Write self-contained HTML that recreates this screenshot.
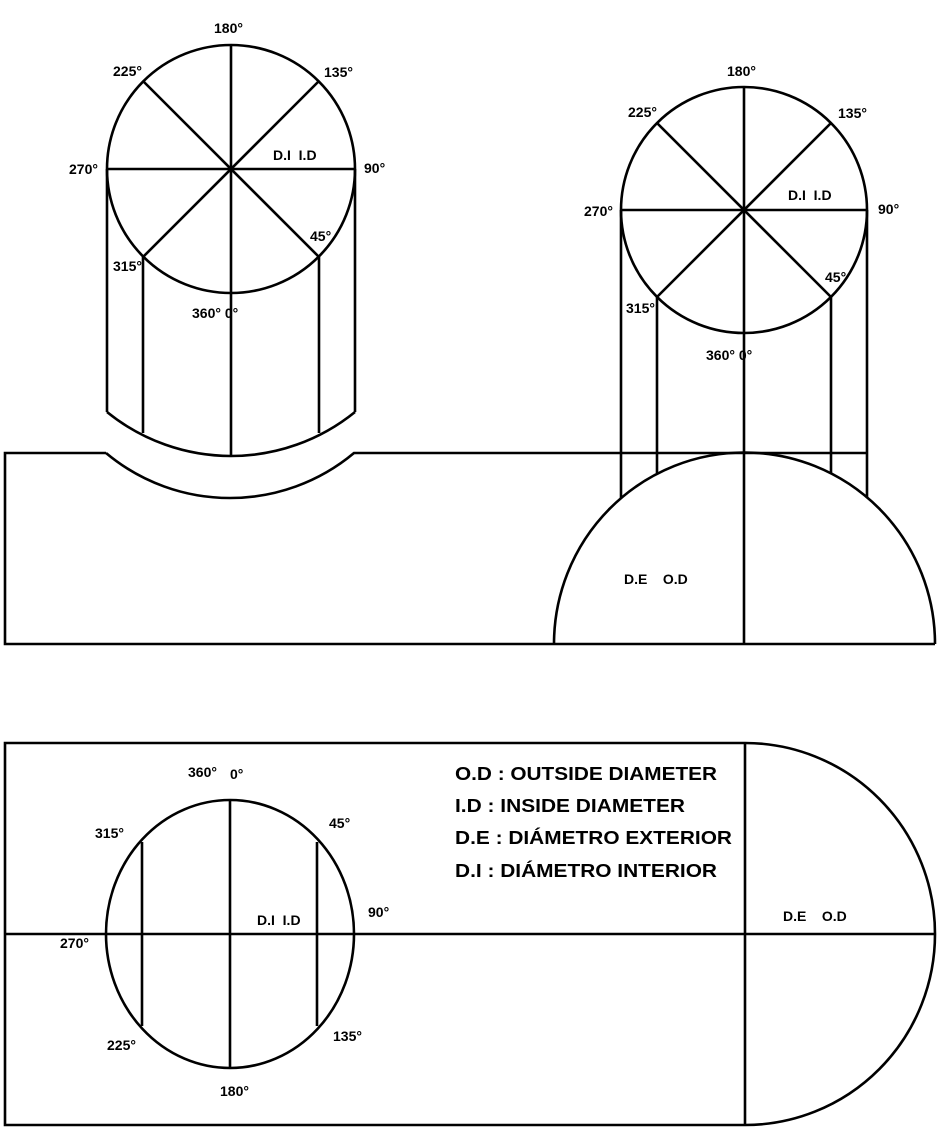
<!DOCTYPE html>
<html><head><meta charset="utf-8"><style>
html,body{margin:0;padding:0;background:#fff}
svg{display:block}
text{font-family:"Liberation Sans",Arial,sans-serif;font-weight:bold;font-size:14px;fill:#000;white-space:pre}
.l{font-size:18px}
</style></head><body>
<svg width="950" height="1147" viewBox="0 0 950 1147" xmlns="http://www.w3.org/2000/svg" xml:space="preserve">
<g fill="none" stroke="#000" stroke-width="2.6">
<circle cx="231" cy="169" r="124"/>
<line x1="107" y1="169" x2="355" y2="169"/>
<line x1="231" y1="45" x2="231" y2="456"/>
<line x1="143" y1="81" x2="319" y2="257"/>
<line x1="319" y1="81" x2="143" y2="257"/>
<line x1="107" y1="169" x2="107" y2="412"/>
<line x1="355" y1="169" x2="355" y2="412"/>
<line x1="143" y1="257" x2="143" y2="433"/>
<line x1="319" y1="257" x2="319" y2="433"/>
<path d="M107 412 A197 197 0 0 0 231 456 A197 197 0 0 0 355 412"/>
<path d="M106 453 L5 453 L5 644 L935 644"/>
<path d="M106 453 A193 193 0 0 0 230 498 A193 193 0 0 0 354 453 L868 453"/>
<circle cx="744" cy="210" r="123"/>
<line x1="621" y1="210" x2="867" y2="210"/>
<line x1="744" y1="87" x2="744" y2="644"/>
<line x1="657" y1="123" x2="831" y2="297"/>
<line x1="831" y1="123" x2="657" y2="297"/>
<line x1="621" y1="210" x2="621" y2="498"/>
<line x1="867" y1="210" x2="867" y2="498"/>
<line x1="657" y1="297" x2="657" y2="473"/>
<line x1="831" y1="297" x2="831" y2="473"/>
<path d="M554 644 A190 191 0 0 1 935 644"/>
<path d="M745 743 L5 743 L5 1125 L745 1125"/>
<line x1="745" y1="743" x2="745" y2="1125"/>
<path d="M745 743 A190 191 0 0 1 745 1125"/>
<line x1="5" y1="934" x2="935" y2="934"/>
<ellipse cx="230" cy="934" rx="124" ry="134"/>
<line x1="230" y1="800" x2="230" y2="1068"/>
<line x1="142" y1="842" x2="142" y2="1026"/>
<line x1="317" y1="842" x2="317" y2="1026"/>
</g>
<text x="214" y="33">180°</text>
<text x="113" y="76">225°</text>
<text x="324" y="77">135°</text>
<text x="69" y="174">270°</text>
<text x="364" y="173">90°</text>
<text x="273" y="160">D.I  I.D</text>
<text x="310" y="241">45°</text>
<text x="113" y="271">315°</text>
<text x="192" y="318">360° 0°</text>
<text x="727" y="76">180°</text>
<text x="628" y="117">225°</text>
<text x="838" y="118">135°</text>
<text x="584" y="216">270°</text>
<text x="878" y="214">90°</text>
<text x="788" y="200">D.I  I.D</text>
<text x="825" y="282">45°</text>
<text x="626" y="313">315°</text>
<text x="706" y="360">360° 0°</text>
<text x="624" y="584">D.E    O.D</text>
<text x="188" y="777">360°</text>
<text x="230" y="779">0°</text>
<text x="95" y="838">315°</text>
<text x="329" y="828">45°</text>
<text x="368" y="917">90°</text>
<text x="257" y="925">D.I  I.D</text>
<text x="60" y="948">270°</text>
<text x="107" y="1050">225°</text>
<text x="333" y="1041">135°</text>
<text x="220" y="1096">180°</text>
<text x="783" y="921">D.E    O.D</text>
<text class="l" x="455" y="780" textLength="262" lengthAdjust="spacingAndGlyphs">O.D : OUTSIDE DIAMETER</text>
<text class="l" x="455" y="812" textLength="230" lengthAdjust="spacingAndGlyphs">I.D : INSIDE DIAMETER</text>
<text class="l" x="455" y="844" textLength="277" lengthAdjust="spacingAndGlyphs">D.E : DIÁMETRO EXTERIOR</text>
<text class="l" x="455" y="877" textLength="262" lengthAdjust="spacingAndGlyphs">D.I : DIÁMETRO INTERIOR</text>
</svg>
</body></html>
